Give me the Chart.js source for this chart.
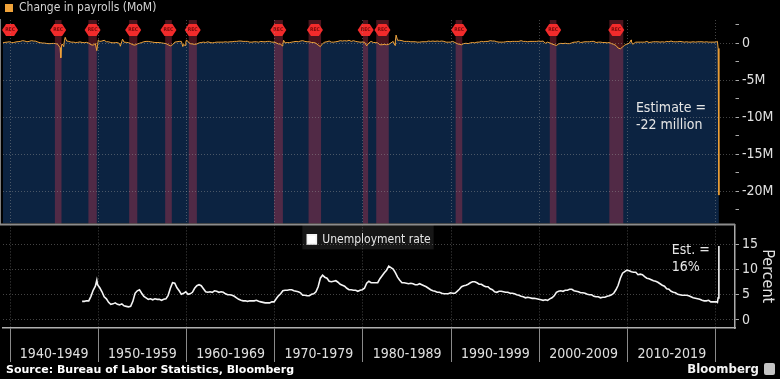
<!DOCTYPE html>
<html>
<head>
<meta charset="utf-8">
<script src="https://cdn.jsdelivr.net/npm/chart.js@4.4.1/dist/chart.umd.min.js"></script>
<style>
  html, body { margin: 0; padding: 0; background: #000; }
  #wrap { position: relative; width: 780px; height: 379px; background: #000; overflow: hidden; }
  #top-chart { position: absolute; left: 0; top: 0; }
  #bottom-chart { position: absolute; left: 0; top: 213px; }
  #source { position: absolute; left: 6px; top: 363px; color: #fff; white-space: nowrap;
    font: bold 11px 'DejaVu Sans', sans-serif; }
  #logo { position: absolute; right: 5px; top: 361px; color: #f2f2f2; white-space: nowrap;
    font: bold 13px 'DejaVu Sans Condensed', 'DejaVu Sans', sans-serif; }
  #logo span { display: inline-block; width: 11px; height: 12px; margin-left: 5px;
    background: #c4c4c4; border-radius: 2px; vertical-align: -2px; }
</style>
</head>
<body>
<div id="wrap">
  <canvas id="top-chart" width="780" height="235"></canvas>
  <canvas id="bottom-chart" width="780" height="155"></canvas>
  <div id="source">Source: Bureau of Labor Statistics, Bloomberg</div>
  <div id="logo">Bloomberg<span></span></div>
</div>
<script>
'use strict';

const FONT = "'DejaVu Sans Condensed', 'DejaVu Sans', sans-serif";

// X axis (years)
const yearMin = 1939.2;
const yearMax = 2022.16;
const xTickValues = [1940, 1945, 1950, 1955, 1960, 1965, 1970, 1975, 1980, 1985,
  1990, 1995, 2000, 2005, 2010, 2015, 2020];
const decadeLabels = ['1940-1949', '1950-1959', '1960-1969', '1970-1979',
  '1980-1989', '1990-1999', '2000-2009', '2010-2019'];

// Change in payrolls, thousands per month, quarterly averages from 1939
const payrollFirstYear = 1939;
const payrollQuarterly = [
  60, 120, 150, 200, // 1939
  80, 100, 180, 220,
  250, 350, 300, 200,
  250, 350, 300, 280,
  150, 80, 30, 20,
  -30, -60, -40, -20,
  -50, -150, -600, -100, // 1945
  400, 300, 250, 150,
  150, 100, 120, 180,
  100, 80, 120, 20,
  -200, -250, -50, -200,
  250, 300, 400, 200, // 1950
  200, 100, 50, 80,
  100, -50, 250, 150,
  120, 80, -50, -200,
  -250, -100, 0, 100,
  200, 250, 250, 200, // 1955
  150, 100, 100, 100,
  50, 0, -50, -200,
  -350, -200, 150, 200,
  250, 250, -150, 150,
  200, -50, -100, -150, // 1960
  -100, 50, 100, 150,
  100, 200, 100, 50,
  100, 150, 150, 150,
  150, 200, 150, 200,
  200, 250, 250, 300, // 1965
  300, 250, 250, 250,
  150, 150, 200, 200,
  150, 250, 200, 200,
  250, 250, 150, 150,
  50, -100, -100, -150, // 1970
  50, 100, 80, 150,
  200, 250, 200, 300,
  350, 250, 200, 200,
  100, 100, 0, -250,
  -450, -50, 150, 200, // 1975
  300, 150, 150, 200,
  250, 350, 300, 350,
  300, 400, 250, 350,
  250, 200, 150, 150,
  150, -350, 50, 250, // 1980
  100, 100, 50, -200,
  -200, -150, -200, -150,
  50, 250, 300, 400,
  400, 350, 250, 250,
  250, 200, 200, 200, // 1985
  150, 150, 200, 200,
  200, 300, 250, 300,
  250, 300, 250, 300,
  250, 150, 150, 150,
  250, 100, -50, -150, // 1990
  -200, -50, 0, -50,
  50, 100, 50, 150,
  150, 250, 200, 250,
  250, 350, 300, 300,
  200, 150, 150, 150, // 1995
  200, 250, 200, 250,
  250, 250, 250, 350,
  250, 250, 200, 250,
  250, 250, 250, 300,
  250, 300, 0, 150, // 2000
  50, -100, -200, -300,
  -100, -10, -50, 0,
  -50, -50, 50, 150,
  150, 250, 100, 150,
  200, 200, 200, 250, // 2005
  250, 100, 150, 150,
  100, 100, 50, 100,
  -50, -150, -300, -650,
  -750, -500, -250, -100,
  0, 200, -50, 150, // 2010
  150, 150, 150, 150,
  250, 100, 150, 200,
  200, 200, 150, 200,
  150, 250, 200, 300,
  200, 200, 200, 250, // 2015
  200, 150, 200, 150,
  150, 200, 150, 200,
  200, 200, 150, 200,
  150, 150, 150, 150
];
// single months that stand out (strikes, demobilisation, 2020)
const payrollMonthDates = [1945.75, 1945.83, 1946.08, 1946.25, 1949.83, 1950.0,
  1952.5, 1952.75, 1959.58, 1959.83, 1960.0, 1970.83, 1971.0, 1983.63, 1983.75,
  2010.4, 2010.58, 2020.083, 2020.167, 2020.25, 2020.333];
const payrollMonthValues = [-1960, -250, -450, 800, -1000, 450,
  -400, 550, -450, -300, 450, -350, 400, -300, 1100,
  450, -150, 214, 251, -701, -20500];
const payrollTickValues = [2500, 0, -2500, -5000, -7500, -10000, -12500,
  -15000, -17500, -20000, -22500];

// Unemployment rate, percent, quarterly averages from 1948
const rateFirstYear = 1948;
const rateQuarterly = [
  3.7, 3.7, 3.8, 3.8, // 1948
  4.7, 5.9, 6.7, 7.0,
  6.4, 5.6, 4.6, 4.2, // 1950
  3.5, 3.1, 3.2, 3.4,
  3.1, 3.0, 3.2, 2.8,
  2.7, 2.6, 2.7, 3.7,
  5.3, 5.8, 6.0, 5.3,
  4.7, 4.4, 4.1, 4.2, // 1955
  4.0, 4.2, 4.1, 4.1,
  3.9, 4.1, 4.2, 4.9,
  6.3, 7.4, 7.3, 6.4,
  5.8, 5.1, 5.3, 5.6,
  5.1, 5.2, 5.5, 6.3, // 1960
  6.8, 7.0, 6.8, 6.2,
  5.6, 5.5, 5.6, 5.5,
  5.8, 5.7, 5.5, 5.6,
  5.5, 5.2, 5.0, 5.0,
  4.9, 4.7, 4.4, 4.1, // 1965
  3.9, 3.8, 3.8, 3.7,
  3.8, 3.8, 3.8, 3.9,
  3.7, 3.6, 3.5, 3.4,
  3.4, 3.4, 3.6, 3.6,
  4.2, 4.8, 5.2, 5.8, // 1970
  5.9, 5.9, 6.0, 6.0,
  5.8, 5.7, 5.6, 5.4,
  4.9, 4.9, 4.8, 4.8,
  5.1, 5.2, 5.6, 6.6,
  8.3, 8.9, 8.5, 8.3, // 1975
  7.7, 7.6, 7.7, 7.8,
  7.5, 7.1, 6.9, 6.7,
  6.3, 6.0, 6.0, 5.9,
  5.9, 5.7, 5.9, 6.0,
  6.3, 7.3, 7.7, 7.4, // 1980
  7.4, 7.4, 7.4, 8.2,
  8.8, 9.4, 9.9, 10.7,
  10.4, 10.1, 9.4, 8.5,
  7.9, 7.4, 7.4, 7.3,
  7.2, 7.3, 7.2, 7.0, // 1985
  7.0, 7.2, 7.0, 6.8,
  6.6, 6.3, 6.0, 5.8,
  5.7, 5.5, 5.5, 5.3,
  5.2, 5.2, 5.2, 5.4,
  5.3, 5.3, 5.7, 6.1, // 1990
  6.6, 6.8, 6.9, 7.1,
  7.4, 7.6, 7.6, 7.4,
  7.1, 7.1, 6.8, 6.6,
  6.6, 6.2, 6.0, 5.6,
  5.5, 5.7, 5.7, 5.6, // 1995
  5.5, 5.5, 5.3, 5.3,
  5.2, 5.0, 4.9, 4.7,
  4.6, 4.4, 4.5, 4.4,
  4.3, 4.3, 4.2, 4.1,
  4.0, 3.9, 4.0, 3.9, // 2000
  4.2, 4.4, 4.8, 5.5,
  5.7, 5.8, 5.7, 5.9,
  5.9, 6.1, 6.1, 5.8,
  5.7, 5.6, 5.4, 5.4,
  5.3, 5.1, 5.0, 5.0, // 2005
  4.7, 4.6, 4.6, 4.4,
  4.5, 4.5, 4.7, 4.8,
  5.0, 5.3, 6.0, 6.9,
  8.3, 9.3, 9.6, 9.9,
  9.8, 9.6, 9.5, 9.5, // 2010
  9.0, 9.1, 9.0, 8.6,
  8.3, 8.2, 8.0, 7.8,
  7.7, 7.5, 7.2, 6.9,
  6.7, 6.2, 6.1, 5.7,
  5.5, 5.4, 5.1, 5.0, // 2015
  4.9, 4.9, 4.9, 4.8,
  4.6, 4.4, 4.3, 4.2,
  4.1, 3.9, 3.8, 3.8,
  3.9, 3.6, 3.6, 3.6
];
const rateMonthDates = [1949.83, 2020.083, 2020.167, 2020.25, 2020.333];
const rateMonthValues = [7.9, 3.6, 3.5, 4.4, 14.7];
const rateTickValues = [0, 2.5, 5, 7.5, 10, 12.5, 15, 17.5];

// Recessions (start, end in years) and REC flags
const recessionStart = [1945.08, 1948.88, 1953.5, 1957.58, 1960.25, 1969.92,
  1973.83, 1980.0, 1981.5, 1990.5, 2001.17, 2007.92];
const recessionEnd = [1945.83, 1949.83, 1954.42, 1958.33, 1961.17, 1970.92,
  1975.25, 1980.58, 1982.92, 1991.25, 2001.92, 2009.5];
const recessionFlags = [1940.0, 1945.45, 1949.35, 1953.95, 1957.95, 1960.7,
  1970.4, 1974.55, 1980.3, 1982.2, 1990.9, 2001.55, 2008.7];

function buildPoints(firstYear, quarterly, monthDates, monthValues) {
  let pts = [];
  for (let i = 0; i < quarterly.length; i++) {
    let year = firstYear + Math.floor(i / 4);
    pts.push({ x: year + (i % 4) * 0.25 + 0.167, y: quarterly[i] });
  }
  for (let i = 0; i < monthDates.length; i++) {
    pts.push({ x: monthDates[i], y: monthValues[i] });
  }
  pts.sort((a, b) => a.x - b.x);
  return pts;
}

const gridGrey = 'rgba(150, 150, 150, 0.45)';

// the legend takes a fixed height in the layout so the plot areas line up,
// but keeps its real height for drawing (the legend clips to its box)
function legendHeight(h) {
  return {
    id: 'legendHeight',
    afterInit(chart) {
      const legend = chart.legend;
      const fit = legend.fit;
      legend.fit = function () {
        fit.call(this);
        this.realHeight = this.height;
        this.height = h;
      };
    },
    afterLayout(chart) {
      const legend = chart.legend;
      legend.bottom = legend.top + Math.max(h, legend.realHeight || 0);
    }
  };
}

// shading + REC flags in the payrolls panel
const recessionPlugin = {
  id: 'recessions',
  beforeDatasetsDraw(chart) {
    const { ctx, chartArea, scales: { x } } = chart;
    ctx.save();
    ctx.fillStyle = 'rgba(205, 55, 80, 0.36)';
    for (let i = 0; i < recessionStart.length; i++) {
      let x1 = x.getPixelForValue(recessionStart[i]);
      let x2 = x.getPixelForValue(recessionEnd[i]);
      ctx.fillRect(x1, chartArea.top, x2 - x1, chartArea.bottom - chartArea.top);
    }
    ctx.restore();
  },
  afterDatasetsDraw(chart) {
    const { ctx, chartArea, scales: { x } } = chart;
    ctx.save();
    for (let i = 0; i < recessionFlags.length; i++) {
      let cx = x.getPixelForValue(recessionFlags[i]);
      let cy = chartArea.top + 10;
      ctx.beginPath();
      ctx.moveTo(cx - 8, cy);
      ctx.lineTo(cx - 4, cy - 6);
      ctx.lineTo(cx + 4, cy - 6);
      ctx.lineTo(cx + 8, cy);
      ctx.lineTo(cx + 4, cy + 6);
      ctx.lineTo(cx - 4, cy + 6);
      ctx.closePath();
      ctx.fillStyle = '#f22b2b';
      ctx.fill();
      ctx.fillStyle = '#7a0a0a';
      ctx.font = 'bold 5px ' + FONT;
      ctx.textAlign = 'center';
      ctx.textBaseline = 'middle';
      ctx.fillText('REC', cx, cy);
    }
    ctx.restore();
  },
  afterDraw(chart) {
    const { ctx, scales: { x, y } } = chart;
    ctx.save();
    ctx.fillStyle = '#e6e6e6';
    ctx.font = '14px ' + FONT;
    ctx.textBaseline = 'middle';
    let tx = x.getPixelForValue(2010.93);
    let ty = y.getPixelForValue(-8850);
    ctx.fillText('Estimate =', tx, ty);
    ctx.fillText('-22 million', tx, ty + 17);
    ctx.restore();
  }
};

const ratePlugin = {
  id: 'rateExtras',
  beforeDraw(chart) {
    const { ctx, chartArea } = chart;
    const box = chart.legend.legendHitBoxes[0];
    ctx.save();
    if (box) {
      ctx.fillStyle = '#161616';
      ctx.fillRect(box.left - 5, chartArea.top, box.width + 8, 25);
    }
    ctx.restore();
  },
  afterDraw(chart) {
    const { ctx, chartArea, scales: { x, y } } = chart;
    ctx.save();
    ctx.strokeStyle = '#8c8c8c';
    ctx.lineWidth = 2;
    ctx.beginPath();
    ctx.moveTo(0, chartArea.top);
    ctx.lineTo(chartArea.right, chartArea.top);
    ctx.stroke();
    ctx.fillStyle = '#e6e6e6';
    ctx.font = '14px ' + FONT;
    ctx.textBaseline = 'middle';
    let tx = x.getPixelForValue(2015.0);
    let ty = y.getPixelForValue(13.9);
    ctx.fillText('Est. =', tx, ty);
    ctx.fillText('16%', tx, ty + 17);
    ctx.restore();
  }
};

const topChart = new Chart(document.getElementById('top-chart'), {
  type: 'line',
  data: {
    datasets: [{
      label: 'Change in payrolls (MoM)',
      data: buildPoints(payrollFirstYear, payrollQuarterly, payrollMonthDates, payrollMonthValues),
      borderColor: '#f0a33a',
      backgroundColor: '#0c2341',
      borderWidth: 1,
      pointRadius: 0,
      fill: 'start',
      tension: 0
    }]
  },
  options: {
    responsive: false,
    animation: false,
    layout: { padding: { left: 3, right: 0, top: 0, bottom: 0 } },
    plugins: {
      filler: { drawTime: 'beforeDatasetsDraw' },
      tooltip: { enabled: false },
      legend: {
        position: 'top',
        align: 'start',
        labels: {
          boxWidth: 8,
          boxHeight: 8,
          padding: 2,
          color: '#d4d4d4',
          font: { family: FONT, size: 12, lineHeight: 1 },
          generateLabels: (chart) => [{
            text: chart.data.datasets[0].label,
            fillStyle: '#f0a33a',
            strokeStyle: '#f0a33a',
            lineWidth: 0,
            fontColor: '#d4d4d4',
            datasetIndex: 0
          }]
        }
      }
    },
    scales: {
      x: {
        type: 'linear',
        min: yearMin,
        max: yearMax,
        afterBuildTicks: (axis) => { axis.ticks = xTickValues.filter(v => v % 10 === 0).map(v => ({ value: v })); },
        afterFit: (axis) => { axis.height = 0; },
        ticks: { display: false },
        grid: { color: gridGrey, drawTicks: false, z: 1 },
        border: { display: false, dash: [1, 2] }
      },
      y: {
        position: 'right',
        min: -24350,
        max: 3140,
        afterBuildTicks: (axis) => { axis.ticks = payrollTickValues.map(v => ({ value: v })); },
        afterFit: (axis) => { axis.width = 45; },
        ticks: {
          color: '#e0e0e0',
          padding: 3,
          font: { family: FONT, size: 14 },
          callback: (v) => (v % 5000 === 0 ? (v === 0 ? '0' : (v / 1000) + 'M') : '')
        },
        grid: {
          color: (c) => (c.tick && c.tick.value % 5000 === 0 ? gridGrey : 'transparent'),
          tickColor: '#aaaaaa',
          tickLength: 4,
          z: 1
        },
        border: { color: '#aaaaaa', width: 1.5, dash: [1, 2] }
      }
    }
  },
  plugins: [legendHeight(20), recessionPlugin]
});

const bottomChart = new Chart(document.getElementById('bottom-chart'), {
  type: 'line',
  data: {
    datasets: [{
      label: 'Unemployment rate',
      data: buildPoints(rateFirstYear, rateQuarterly, rateMonthDates, rateMonthValues),
      borderColor: '#f4f4f4',
      backgroundColor: '#ffffff',
      borderWidth: 1.6,
      pointRadius: 0,
      fill: false,
      tension: 0
    }]
  },
  options: {
    responsive: false,
    animation: false,
    layout: { padding: { left: 3, right: 0, top: 0, bottom: 0 } },
    plugins: {
      tooltip: { enabled: false },
      legend: {
        position: 'top',
        align: 'center',
        fullSize: false,
        labels: {
          boxWidth: 9,
          boxHeight: 9,
          padding: 9,
          color: '#e6e6e6',
          font: { family: FONT, size: 12 }
        }
      }
    },
    scales: {
      x: {
        type: 'linear',
        min: yearMin,
        max: yearMax,
        afterBuildTicks: (axis) => { axis.ticks = xTickValues.map(v => ({ value: v })); },
        afterFit: (axis) => { axis.height = 40; },
        ticks: {
          autoSkip: false,
          maxRotation: 0,
          color: '#e0e0e0',
          padding: -16,
          font: { family: FONT, size: 14 },
          callback: (v) => (v % 10 === 5 ? decadeLabels[(v - 1945) / 10] : '')
        },
        grid: {
          color: (c) => (c.tick && c.tick.value % 10 === 0 ? gridGrey : 'transparent'),
          tickColor: (c) => (c.tick && c.tick.value % 10 === 0 ? '#8a8a8a' : 'transparent'),
          tickLength: 34
        },
        border: { color: '#b0b0b0', width: 1.5, dash: [1, 2] }
      },
      y: {
        position: 'right',
        min: -1.6,
        max: 19,
        afterBuildTicks: (axis) => { axis.ticks = rateTickValues.map(v => ({ value: v })); },
        afterFit: (axis) => { axis.width = 45; },
        ticks: {
          color: '#e0e0e0',
          padding: 3,
          font: { family: FONT, size: 14 },
          callback: (v) => (v % 5 === 0 ? String(v) : '')
        },
        title: {
          display: true,
          text: 'Percent',
          color: '#e0e0e0',
          font: { family: FONT, size: 16 },
          padding: { top: 3, bottom: 0 }
        },
        grid: {
          color: (c) => (c.tick && c.tick.value % 5 === 0 ? gridGrey : 'transparent'),
          tickColor: '#aaaaaa',
          tickLength: 4
        },
        border: { color: '#aaaaaa', width: 1.5, dash: [1, 2] }
      }
    }
  },
  plugins: [legendHeight(0), ratePlugin]
});
</script>
</body>
</html>
